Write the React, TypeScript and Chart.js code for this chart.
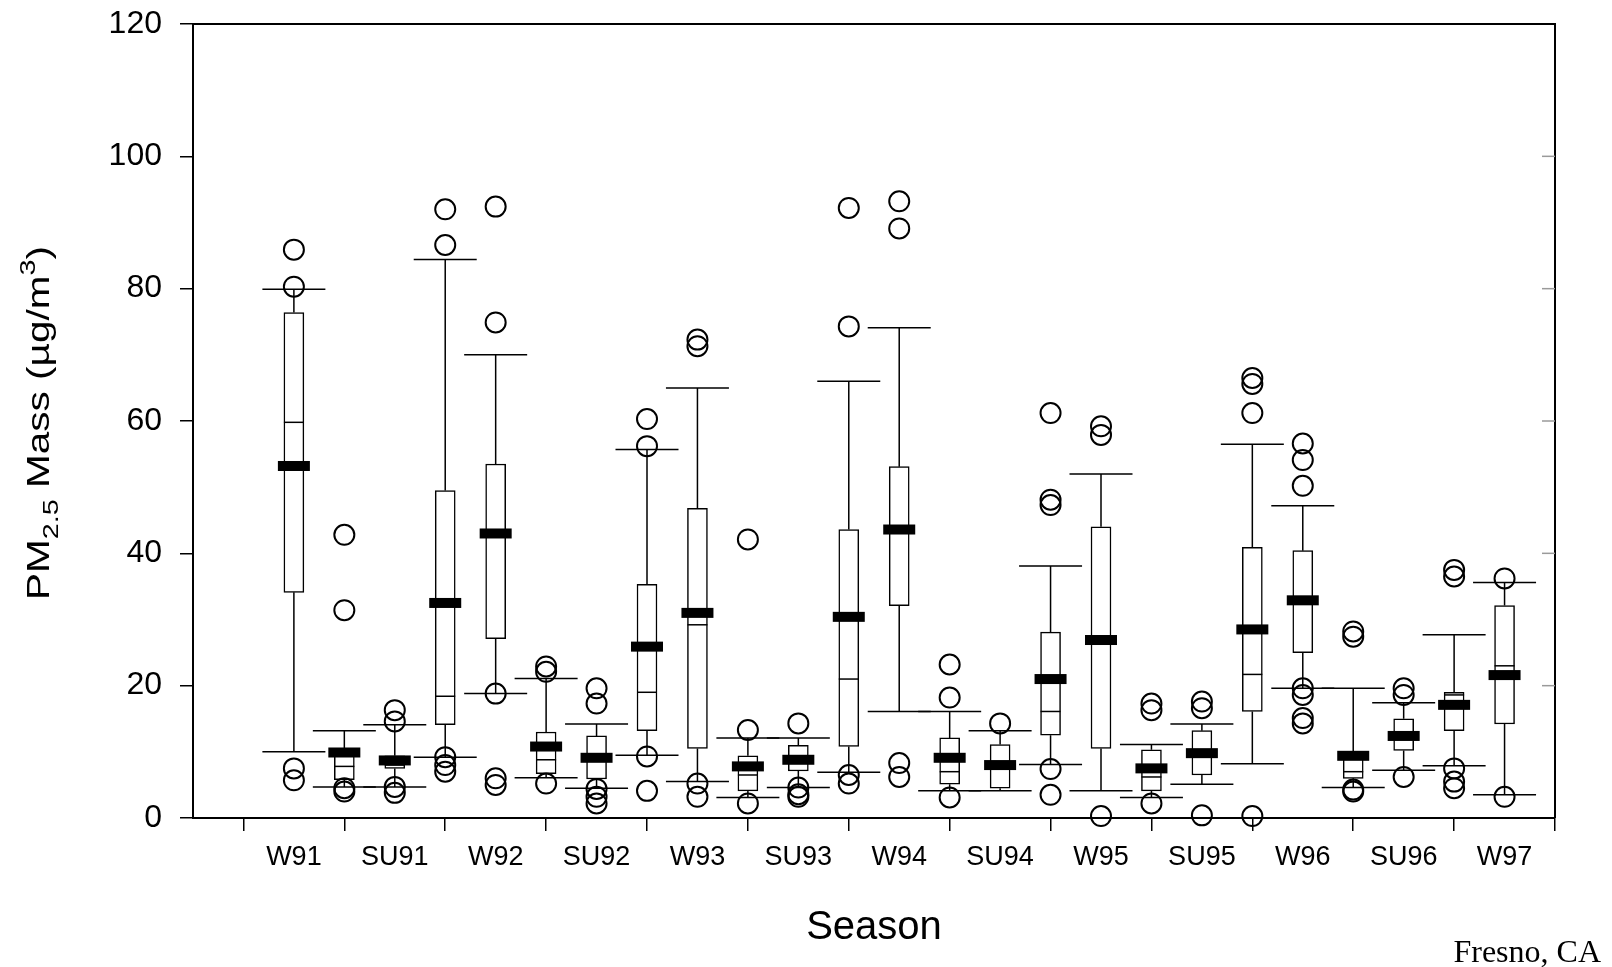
import React, { useEffect, useRef } from 'react';
import { Chart, registerables } from 'chart.js';

Chart.register(...registerables);

// ---- data ----
const POSITIONS = [1, 2, 3, 4, 5, 6, 7, 8, 9, 10, 11, 12, 13, 14, 15, 16, 17, 18, 19, 20, 21, 22, 23, 24, 25];
const TICK_POSITIONS = [-1, 1, 3, 5, 7, 9, 11, 13, 15, 17, 19, 21, 23, 25];
const TICK_LABELS = ['', 'W91', 'SU91', 'W92', 'SU92', 'W93', 'SU93', 'W94', 'SU94', 'W95', 'SU95', 'W96', 'SU96', 'W97'];
const Y_TICKS_RIGHT = [20, 40, 60, 80, 100];

const WHISKER_LOW = [10.0, 4.7, 4.7, 9.2, 18.8, 6.1, 4.5, 9.5, 5.5, 3.1, 4.6, 6.9, 16.1, 4.1, 4.1, 8.1, 4.1, 3.1, 5.1, 8.2, 19.6, 4.6, 7.2, 7.9, 3.5];
const Q1 = [34.1, 5.8, 7.5, 14.1, 27.1, 6.7, 5.9, 13.2, 10.5, 4.1, 7.1, 10.8, 32.1, 5.1, 4.5, 12.5, 10.5, 4.1, 6.5, 16.1, 25.0, 6.0, 10.2, 13.2, 14.2];
const MEDIAN = [59.8, 7.8, 8.0, 18.4, 43.0, 8.8, 9.0, 19.0, 29.2, 6.5, 8.5, 21.0, 43.6, 7.0, 7.5, 16.1, 27.0, 6.2, 9.5, 21.7, 33.0, 7.0, 12.0, 18.6, 23.0];
const Q3 = [76.4, 10.5, 9.4, 49.5, 53.5, 13.0, 12.4, 35.3, 46.8, 9.4, 11.0, 43.6, 53.1, 12.1, 11.1, 28.1, 44.0, 10.3, 13.2, 40.9, 40.4, 10.0, 15.0, 19.0, 32.1];
const WHISKER_HIGH = [79.9, 13.2, 14.1, 84.4, 70.0, 21.1, 14.2, 55.7, 65.0, 12.1, 12.1, 66.0, 74.1, 16.1, 13.2, 38.1, 52.0, 11.1, 14.2, 56.5, 47.2, 19.6, 17.4, 27.7, 35.6];
const MEAN = [53.2, 9.9, 8.7, 32.5, 43.0, 10.8, 9.1, 25.9, 31.0, 7.8, 8.8, 30.4, 43.6, 9.1, 8.0, 21.0, 26.9, 7.5, 9.8, 28.5, 32.9, 9.4, 12.4, 17.1, 21.6];
const OUTLIERS = [
  [85.9, 80.3, 7.5, 5.7],
  [42.8, 31.4, 4.5, 4.0],
  [16.3, 14.6, 4.7, 3.8],
  [92.0, 86.6, 9.2, 8.0, 7.0],
  [92.4, 74.9, 18.8, 6.0, 5.0],
  [22.9, 22.1, 5.2],
  [19.6, 17.3, 4.4, 3.2, 2.2],
  [60.3, 56.2, 9.3, 4.1],
  [72.3, 71.3, 5.2, 3.2],
  [42.1, 13.3, 2.2],
  [14.3, 4.6, 3.6, 3.2],
  [92.2, 74.3, 6.5, 5.2],
  [93.2, 89.1, 8.3, 6.2],
  [23.2, 18.2, 3.1],
  [14.3],
  [61.2, 48.1, 47.3, 7.4, 3.5],
  [59.2, 57.9, 0.3],
  [17.3, 16.3, 2.2],
  [17.6, 16.6, 0.4],
  [66.5, 65.6, 61.2, 0.3],
  [56.6, 54.1, 50.2, 19.6, 18.6, 15.1, 14.3],
  [28.2, 27.4, 4.3, 4.0],
  [19.6, 18.6, 6.2],
  [37.5, 36.5, 7.5, 5.5, 4.5],
  [36.2, 3.2],
];

// ---- styles ----
const SANS = "'Liberation Sans', Arial, Helvetica, sans-serif";
const SERIF = "'Liberation Serif', 'Times New Roman', serif";
const BOX_WIDTH = 20;
const CAP_HALF = 31.5;
const MEAN_HALF_W = 16;
const MEAN_H = 10;
const MEDIAN_HALF = 10;

export default function App() {
  const ref = useRef<HTMLCanvasElement | null>(null);

  useEffect(() => {
    document.body.style.margin = '0';
    const canvas = ref.current;
    if (!canvas) return;

    const boxData = POSITIONS.map((p, i) => ({ x: p, y: [Q1[i], Q3[i]] }));
    const outlierData: { x: number; y: number }[] = [];
    POSITIONS.forEach((p, i) => OUTLIERS[i].forEach((v) => outlierData.push({ x: p, y: v })));

    const boxPlugin = {
      id: 'boxplotExtras',
      beforeDatasetsDraw(chart: any) {
        const { ctx } = chart;
        const xs = chart.scales.x;
        const ys = chart.scales.y;
        ctx.save();
        ctx.strokeStyle = '#000';
        ctx.lineWidth = 1.5;
        POSITIONS.forEach((p, i) => {
          const px = xs.getPixelForValue(p);
          const yLo = ys.getPixelForValue(WHISKER_LOW[i]);
          const yHi = ys.getPixelForValue(WHISKER_HIGH[i]);
          const yQ1 = ys.getPixelForValue(Q1[i]);
          const yQ3 = ys.getPixelForValue(Q3[i]);
          ctx.beginPath();
          ctx.moveTo(px, yLo);
          ctx.lineTo(px, yQ1);
          ctx.moveTo(px, yQ3);
          ctx.lineTo(px, yHi);
          ctx.moveTo(px - CAP_HALF, yLo);
          ctx.lineTo(px + CAP_HALF, yLo);
          ctx.moveTo(px - CAP_HALF, yHi);
          ctx.lineTo(px + CAP_HALF, yHi);
          ctx.stroke();
        });
        ctx.restore();
      },
      afterDatasetDraw(chart: any, args: any) {
        if (args.index !== 0) return;
        const { ctx } = chart;
        const xs = chart.scales.x;
        const ys = chart.scales.y;
        ctx.save();
        ctx.strokeStyle = '#000';
        ctx.fillStyle = '#000';
        ctx.lineWidth = 1.5;
        POSITIONS.forEach((p, i) => {
          const px = xs.getPixelForValue(p);
          const yMed = ys.getPixelForValue(MEDIAN[i]);
          ctx.beginPath();
          ctx.moveTo(px - MEDIAN_HALF, yMed);
          ctx.lineTo(px + MEDIAN_HALF, yMed);
          ctx.stroke();
          const yMean = ys.getPixelForValue(MEAN[i]);
          ctx.fillRect(px - MEAN_HALF_W, yMean - MEAN_H / 2, MEAN_HALF_W * 2, MEAN_H);
        });
        ctx.restore();
      },
      afterDraw(chart: any) {
        const { ctx, chartArea } = chart;
        const ys = chart.scales.y;
        ctx.save();
        // top and right frame
        ctx.strokeStyle = '#000';
        ctx.lineWidth = 2;
        ctx.beginPath();
        ctx.moveTo(chartArea.left, chartArea.top);
        ctx.lineTo(chartArea.right, chartArea.top);
        ctx.lineTo(chartArea.right, chartArea.bottom);
        ctx.stroke();
        // faint inward ticks on right frame
        ctx.strokeStyle = '#9a9a9a';
        ctx.lineWidth = 1.5;
        Y_TICKS_RIGHT.forEach((v) => {
          const py = ys.getPixelForValue(v);
          ctx.beginPath();
          ctx.moveTo(chartArea.right - 13, py);
          ctx.lineTo(chartArea.right, py);
          ctx.stroke();
        });

        // y axis title with subscript / superscript
        ctx.fillStyle = '#000';
        const segs = [
          { t: 'PM', size: 31, dy: 0 },
          { t: '2.5', size: 22, dy: 9 },
          { t: ' Mass (\u00b5g/m', size: 31, dy: 0 },
          { t: '3', size: 22, dy: -14 },
          { t: ')', size: 31, dy: 0 },
        ];
        let natural = 0;
        const widths = segs.map((s) => {
          ctx.font = `${s.size}px ${SANS}`;
          const w = ctx.measureText(s.t).width;
          natural += w;
          return w;
        });
        const targetLen = 354;
        const sx = targetLen / natural;
        ctx.translate(49, 423);
        ctx.rotate(-Math.PI / 2);
        ctx.scale(sx, 1);
        ctx.textBaseline = 'alphabetic';
        ctx.textAlign = 'left';
        let cx = -natural / 2;
        segs.forEach((s, i) => {
          ctx.font = `${s.size}px ${SANS}`;
          ctx.fillText(s.t, cx, s.dy);
          cx += widths[i];
        });
        ctx.setTransform(1, 0, 0, 1, 0, 0);

        // site label
        ctx.font = `32px ${SERIF}`;
        ctx.textAlign = 'right';
        ctx.textBaseline = 'alphabetic';
        ctx.fillStyle = '#000';
        ctx.fillText('Fresno, CA', 1601, 962);
        ctx.restore();
      },
    };

    const chart = new Chart(canvas, {
      type: 'scatter',
      data: {
        datasets: [
          {
            type: 'bar',
            data: boxData as any,
            backgroundColor: '#ffffff',
            borderColor: '#000000',
            borderWidth: 1.5,
            borderSkipped: false,
            barThickness: BOX_WIDTH,
            order: 2,
          } as any,
          {
            type: 'scatter',
            data: outlierData,
            pointRadius: 10,
            pointHoverRadius: 10,
            pointStyle: 'circle',
            borderColor: '#000000',
            borderWidth: 2,
            backgroundColor: 'rgba(0,0,0,0)',
            clip: false,
            order: 1,
          } as any,
        ],
      },
      options: {
        responsive: false,
        devicePixelRatio: 1,
        animation: false,
        events: [],
        layout: { padding: { left: 0, top: 24, right: 57, bottom: 0 } },
        plugins: {
          legend: { display: false },
          tooltip: { enabled: false },
        },
        scales: {
          x: {
            type: 'linear',
            min: -1,
            max: 26,
            offset: false,
            afterBuildTicks: (scale: any) => {
              scale.ticks = TICK_POSITIONS.map((v) => ({ value: v }));
            },
            afterFit: (scale: any) => {
              scale.height = 149;
            },
            ticks: {
              autoSkip: false,
              maxRotation: 0,
              minRotation: 0,
              padding: 10,
              color: '#000',
              font: { family: SANS, size: 27 },
              callback: (value: any) => {
                const idx = TICK_POSITIONS.indexOf(Number(value));
                return idx >= 0 ? TICK_LABELS[idx] : '';
              },
            },
            grid: {
              drawOnChartArea: false,
              drawTicks: true,
              tickLength: 13,
              color: '#000',
              lineWidth: 1.5,
            },
            border: { display: true, color: '#000', width: 2 },
            title: {
              display: true,
              text: 'Season',
              color: '#000',
              font: { family: SANS, size: 40 },
              padding: { top: 0, bottom: 15 },
            },
          },
          y: {
            type: 'linear',
            min: 0,
            max: 120,
            afterFit: (scale: any) => {
              scale.width = 193;
              scale.paddingTop = 0;
              scale.paddingBottom = 0;
            },
            ticks: {
              stepSize: 20,
              padding: 18,
              color: '#000',
              font: { family: SANS, size: 32 },
            },
            grid: {
              drawOnChartArea: false,
              drawTicks: true,
              tickLength: 13,
              color: '#000',
              lineWidth: 1.5,
            },
            border: { display: true, color: '#000', width: 2 },
          },
        },
      } as any,
      plugins: [boxPlugin],
    });

    return () => {
      chart.destroy();
    };
  }, []);

  return (
    <div style={{ width: 1612, height: 967, background: '#fff' }}>
      <canvas ref={ref} width={1612} height={967} style={{ display: 'block' }} />
    </div>
  );
}
